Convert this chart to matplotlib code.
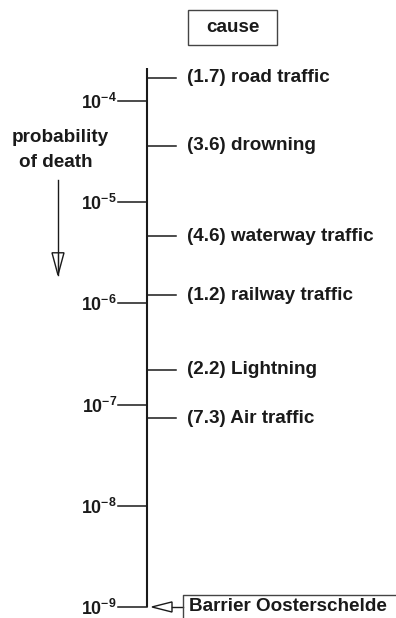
import numpy as np
import matplotlib
matplotlib.use("Agg")
import matplotlib.pyplot as plt
from matplotlib.patches import Polygon, Rectangle

plt.rcParams['font.family'] = ['Liberation Sans', 'DejaVu Sans']
plt.rcParams['mathtext.fontset'] = 'custom'
plt.rcParams['mathtext.rm'] = 'Liberation Sans:bold'
plt.rcParams['mathtext.it'] = 'Liberation Sans:bold'
plt.rcParams['mathtext.bf'] = 'Liberation Sans:bold'

# ------------------------------
# data: yearly probability of death per cause
# ------------------------------
causes = ["road traffic", "drowning", "waterway traffic", "railway traffic",
          "Lightning", "Air traffic"]
mantissa = [1.7, 3.6, 4.6, 1.2, 2.2, 7.3]
exponent = [-4, -5, -6, -6, -7, -8]
decades = [-4, -5, -6, -7, -8, -9]
barrier_label = "Barrier Oosterschelde"
barrier_prob = 1e-9

probs = [m * 10.0 ** e for m, e in zip(mantissa, exponent)]

INK = "#1a1a1a"
AX_X = 147          # position of the vertical scale
FS = 13.6

fig = plt.figure(figsize=(3.96, 6.18), dpi=100)
ax = fig.add_axes([0, 0, 1, 1])
ax.set_yscale("log")
ax.set_xlim(0, 396)
ax.set_ylim(10 ** -9.109, 10 ** -3.002)
ax.axis("off")

# main vertical scale
ax.plot([AX_X, AX_X], [barrier_prob, 10 ** -3.67], color=INK, lw=1.5,
        solid_capstyle="butt")

# decade ticks on the left with labels
for d in decades:
    ax.plot([118, AX_X], [10.0 ** d] * 2, color=INK, lw=1.1)
    ax.text(117, 10.0 ** d * 10 ** -0.02, r"$10^{%d}$" % d, ha="right", va="center",
            fontsize=12.8, color=INK)

# cause ticks on the right with labels
for c, m, p in zip(causes, mantissa, probs):
    ax.plot([AX_X, 176], [p, p], color=INK, lw=1.1)
    ax.text(187, p, f"({m}) {c}", ha="left", va="center", fontsize=FS,
            fontweight="bold", color=INK)

# header box
ax.add_patch(Rectangle((188, 10 ** -3.447), 89, 10 ** -3.101 - 10 ** -3.447,
                       fc="white", ec="#444444", lw=1.0))
ax.text(232.5, 10 ** -3.27, "cause", ha="center", va="center", fontsize=FS,
        fontweight="bold", color=INK)

# axis caption with downward arrow
ax.text(60, 10 ** -4.36, "probability", ha="center", va="center", fontsize=FS,
        fontweight="bold", color=INK)
ax.text(56, 10 ** -4.61, "of death", ha="center", va="center", fontsize=FS,
        fontweight="bold", color=INK)
ax.plot([58, 58], [10 ** -4.78, 10 ** -5.72], color=INK, lw=1.0)
ax.add_patch(Polygon([[52, 10 ** -5.5], [64, 10 ** -5.5], [58, 10 ** -5.72]],
                     closed=True, fc="white", ec=INK, lw=1.0))
ax.plot([58, 58], [10 ** -5.5, 10 ** -5.68], color=INK, lw=0.8)

# barrier marker: open arrow pointing at the scale
ax.add_patch(Polygon([[152, barrier_prob], [172, barrier_prob * 10 ** 0.05],
                      [172, barrier_prob * 10 ** -0.05]],
                     closed=True, fc="white", ec=INK, lw=1.0))
ax.plot([172, 183], [barrier_prob] * 2, color=INK, lw=1.0)
ax.plot([183, 183, 396], [10 ** -9.2, 10 ** -8.88, 10 ** -8.88], color="#444444",
        lw=1.0)
ax.text(189, barrier_prob, barrier_label, ha="left", va="center", fontsize=FS,
        fontweight="bold", color=INK)

fig.savefig("out.png", dpi=100, facecolor="white")
